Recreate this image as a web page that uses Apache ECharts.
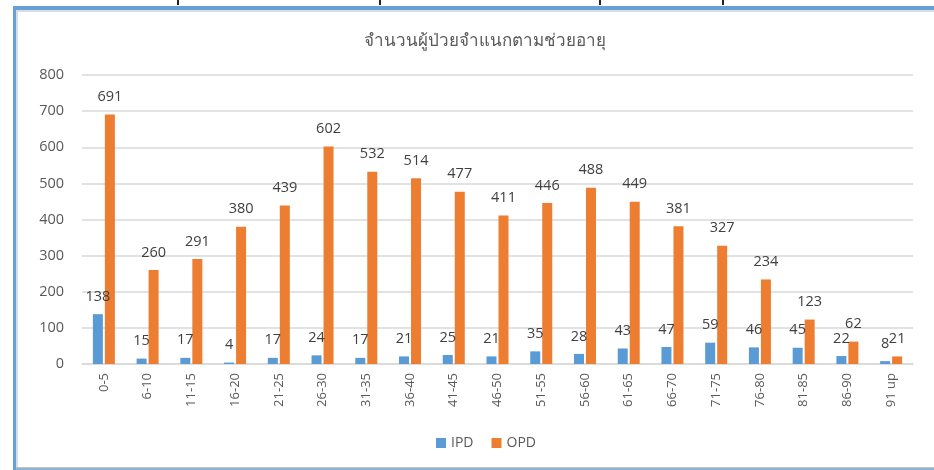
<!DOCTYPE html>
<html>
<head>
<meta charset="utf-8">
<script src="https://cdn.jsdelivr.net/npm/echarts@6/dist/echarts.min.js"></script>
<style>
  html, body { margin: 0; padding: 0; background: #fff; }
  #chart { width: 934px; height: 470px; }
</style>
</head>
<body>
<div id="chart"></div>
<script>
// ข้อมูลตามช่วงอายุ
var categories = ["0-5", "6-10", "11-15", "16-20", "21-25", "26-30", "31-35", "36-40", "41-45",
  "46-50", "51-55", "56-60", "61-65", "66-70", "71-75", "76-80", "81-85", "86-90", "91 up"];
var ipdValues = [138, 15, 17, 4, 17, 24, 17, 21, 25, 21, 35, 28, 43, 47, 59, 46, 45, 22, 8];
var opdValues = [691, 260, 291, 380, 439, 602, 532, 514, 477, 411, 446, 488, 449, 381, 327, 234, 123, 62, 21];
var seriesNames = ["IPD", "OPD"];

var font = '"Open Sans", "Noto Sans", sans-serif';
var textColor = "#595959";

var chart = echarts.init(document.getElementById("chart"));
chart.setOption({
  animation: false,
  color: ["#5B9BD5", "#ED7D31"],
  textStyle: { fontFamily: font },
  title: {
    text: "จำนวนผู้ป่วยจำแนกตามช่วยอายุ",
    left: 480,
    textAlign: "center",
    top: 28,
    textStyle: { fontSize: 17, fontWeight: "normal", color: textColor, fontFamily: font },
  },
  legend: {
    data: seriesNames,
    left: 431,
    top: 431,
    itemWidth: 10,
    itemHeight: 10,
    itemGap: 18,
    icon: "rect",
    textStyle: { fontSize: 14, color: textColor, fontFamily: font },
  },
  grid: { left: 82, right: 21, top: 75, bottom: 106 },
  xAxis: {
    type: "category",
    data: categories,
    axisLine: { lineStyle: { color: "#d9d9d9", width: 1.5 } },
    axisTick: { show: false },
    axisLabel: { rotate: 90, margin: 9, fontSize: 13, color: textColor, interval: 0 },
  },
  yAxis: {
    type: "value",
    min: 0,
    max: 800,
    interval: 100,
    axisLine: { show: false },
    axisTick: { show: false },
    axisLabel: { margin: 18, fontSize: 14.5, color: textColor },
    splitLine: { lineStyle: { color: "#d9d9d9", width: 1.5 } },
  },
  series: [
    {
      name: seriesNames[0],
      type: "bar",
      data: ipdValues,
      barWidth: 10,
      barGap: "20%",
      label: { show: true, position: "top", distance: 10, fontSize: 14.5, color: "#404040" },
    },
    {
      name: seriesNames[1],
      type: "bar",
      data: opdValues,
      barWidth: 10,
      barGap: "20%",
      label: { show: true, position: "top", distance: 10, fontSize: 14.5, color: "#404040" },
    },
  ],
  graphic: [
    // กรอบ
    { type: "rect", shape: { x: 13, y: 6, width: 921, height: 4 }, style: { fill: "#66A0D6" } },
    { type: "rect", shape: { x: 13, y: 6, width: 3, height: 464 }, style: { fill: "#66A0D6" } },
    { type: "rect", shape: { x: 16, y: 10, width: 918, height: 2 }, style: { fill: "#d6dde4" } },
    { type: "rect", shape: { x: 16, y: 10, width: 2, height: 458 }, style: { fill: "#d6dde4" } },
    { type: "rect", shape: { x: 16, y: 467, width: 918, height: 1 }, style: { fill: "#c9c2b8" } },
    { type: "rect", shape: { x: 16, y: 468, width: 918, height: 2 }, style: { fill: "#8fb3d8" } },
    // ข้อความด้านบนที่ถูกตัด
    { type: "rect", shape: { x: 177, y: 0, width: 2, height: 5 }, style: { fill: "#222" } },
    { type: "rect", shape: { x: 379, y: 0, width: 2, height: 5 }, style: { fill: "#222" } },
    { type: "rect", shape: { x: 599, y: 0, width: 2, height: 5 }, style: { fill: "#222" } },
    { type: "rect", shape: { x: 722, y: 0, width: 2, height: 5 }, style: { fill: "#222" } },
  ],
});
</script>
</body>
</html>
